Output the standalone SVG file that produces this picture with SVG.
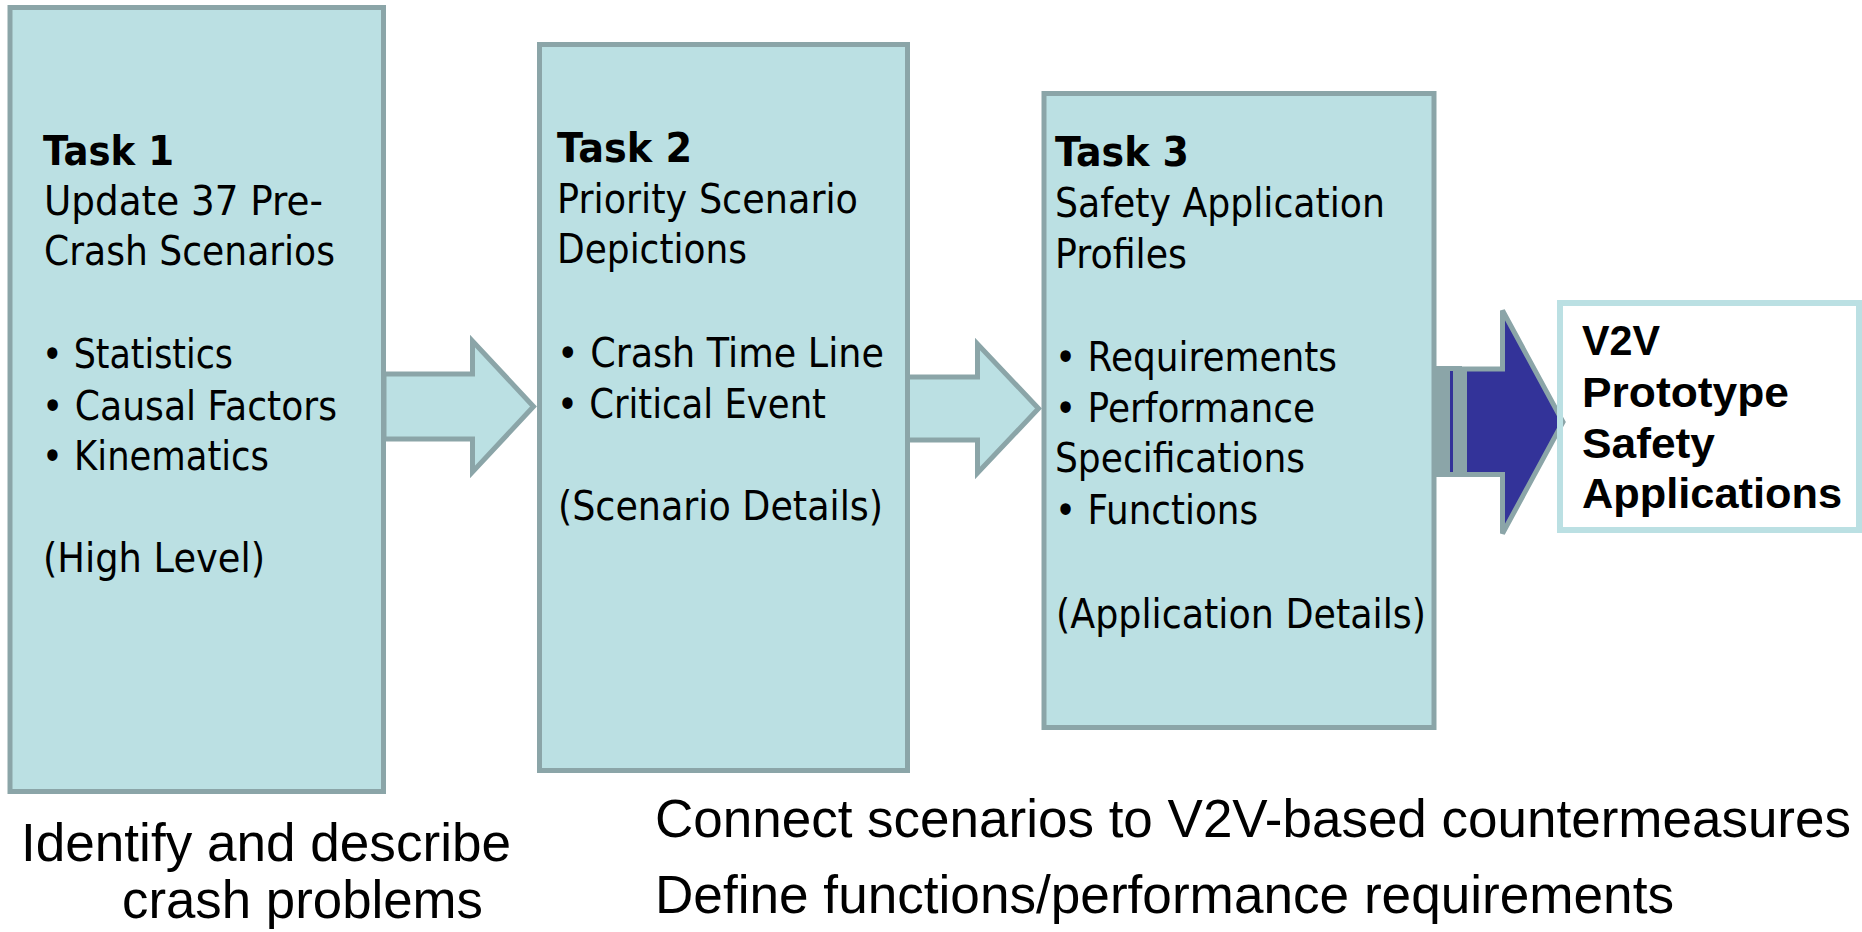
<svg xmlns="http://www.w3.org/2000/svg" width="1862" height="932" viewBox="0 0 1862 932">
<style>
.box{fill:#BBE0E3;stroke:#8BA5A8;stroke-width:5}
.arr{fill:#BBE0E3;stroke:#8BA5A8;stroke-width:5;stroke-linejoin:miter}
.t{font-family:"DejaVu Sans",Verdana,sans-serif;font-size:41px;fill:#000}
.tb{font-family:"DejaVu Sans",Verdana,sans-serif;font-size:41px;font-weight:bold;fill:#000}
.v{font-family:"Liberation Sans",Arial,sans-serif;font-size:42px;font-weight:bold;fill:#000}
.cap{font-family:"Liberation Sans",Arial,sans-serif;font-size:54px;fill:#000}
</style>
<rect width="1862" height="932" fill="#FFFFFF"/>
<g id="task1">
<rect class="box" x="10" y="7.5" width="373.5" height="784"/>
<text class="tb" x="43" y="165" textLength="131" lengthAdjust="spacingAndGlyphs">Task 1</text>
<text class="t" x="44" y="215" textLength="279" lengthAdjust="spacingAndGlyphs">Update 37 Pre-</text>
<text class="t" x="44" y="265" textLength="291" lengthAdjust="spacingAndGlyphs">Crash Scenarios</text>
<text class="t" x="42" y="368" textLength="191" lengthAdjust="spacingAndGlyphs">• Statistics</text>
<text class="t" x="42" y="420" textLength="295" lengthAdjust="spacingAndGlyphs">• Causal Factors</text>
<text class="t" x="42" y="470" textLength="227" lengthAdjust="spacingAndGlyphs">• Kinematics</text>
<text class="t" x="43" y="572" textLength="222" lengthAdjust="spacingAndGlyphs">(High Level)</text>
</g>
<g id="task2">
<rect class="box" x="539.5" y="44.5" width="368" height="726"/>
<text class="tb" x="557" y="162" textLength="135" lengthAdjust="spacingAndGlyphs">Task 2</text>
<text class="t" x="557" y="213" textLength="301" lengthAdjust="spacingAndGlyphs">Priority Scenario</text>
<text class="t" x="557" y="263" textLength="190" lengthAdjust="spacingAndGlyphs">Depictions</text>
<text class="t" x="557" y="367" textLength="327" lengthAdjust="spacingAndGlyphs">• Crash Time Line</text>
<text class="t" x="557" y="418" textLength="269" lengthAdjust="spacingAndGlyphs">• Critical Event</text>
<text class="t" x="558" y="520" textLength="325" lengthAdjust="spacingAndGlyphs">(Scenario Details)</text>
</g>
<g id="task3">
<rect class="box" x="1044" y="93.5" width="390" height="634"/>
<text class="tb" x="1055" y="166" textLength="134" lengthAdjust="spacingAndGlyphs">Task 3</text>
<text class="t" x="1055" y="217" textLength="330" lengthAdjust="spacingAndGlyphs">Safety Application</text>
<text class="t" x="1055" y="268" textLength="132" lengthAdjust="spacingAndGlyphs">Profiles</text>
<text class="t" x="1055" y="371" textLength="282" lengthAdjust="spacingAndGlyphs">• Requirements</text>
<text class="t" x="1055" y="422" textLength="260" lengthAdjust="spacingAndGlyphs">• Performance</text>
<text class="t" x="1055" y="472" textLength="250" lengthAdjust="spacingAndGlyphs">Specifications</text>
<text class="t" x="1055" y="524" textLength="203" lengthAdjust="spacingAndGlyphs">• Functions</text>
<text class="t" x="1056" y="628" textLength="370" lengthAdjust="spacingAndGlyphs">(Application Details)</text>
</g>
<g id="v2v-fill">
<rect x="1560" y="303" width="299" height="227" fill="#FFFFFF"/>
</g>
<g id="connectors">
<polygon class="arr" points="384,374 472.5,374 472.5,341 533.5,406.5 472.5,472 472.5,439 384,439"/>
<polygon class="arr" points="907.5,377 977.5,377 977.5,344 1038.5,408.5 977.5,473 977.5,440 907.5,440"/>
<rect x="1436" y="366" width="26" height="111" fill="#8BA5A8"/>
<rect x="1450" y="371" width="3" height="101" fill="#333399"/>
<polygon points="1464.5,369 1502.5,369 1502.5,310.5 1563,422 1502.5,533.5 1502.5,474.5 1464.5,474.5" fill="#333399" stroke="#8BA5A8" stroke-width="5"/>
</g>
<g id="v2v">
<rect x="1560" y="303" width="299" height="227" fill="none" stroke="#BBE0E3" stroke-width="6"/>
<text class="v" x="1582" y="355" textLength="78" lengthAdjust="spacingAndGlyphs">V2V</text>
<text class="v" x="1582" y="407" textLength="207" lengthAdjust="spacingAndGlyphs">Prototype</text>
<text class="v" x="1582" y="458" textLength="133" lengthAdjust="spacingAndGlyphs">Safety</text>
<text class="v" x="1582" y="508" textLength="260" lengthAdjust="spacingAndGlyphs">Applications</text>
</g>
<g id="captions">
<text class="cap" x="21" y="861" textLength="490" lengthAdjust="spacingAndGlyphs">Identify and describe</text>
<text class="cap" x="122" y="918" textLength="361" lengthAdjust="spacingAndGlyphs">crash problems</text>
<text class="cap" x="655" y="837" textLength="1196" lengthAdjust="spacingAndGlyphs">Connect scenarios to V2V-based countermeasures</text>
<text class="cap" x="655" y="913" textLength="1019" lengthAdjust="spacingAndGlyphs">Define functions/performance requirements</text>
</g>
</svg>
